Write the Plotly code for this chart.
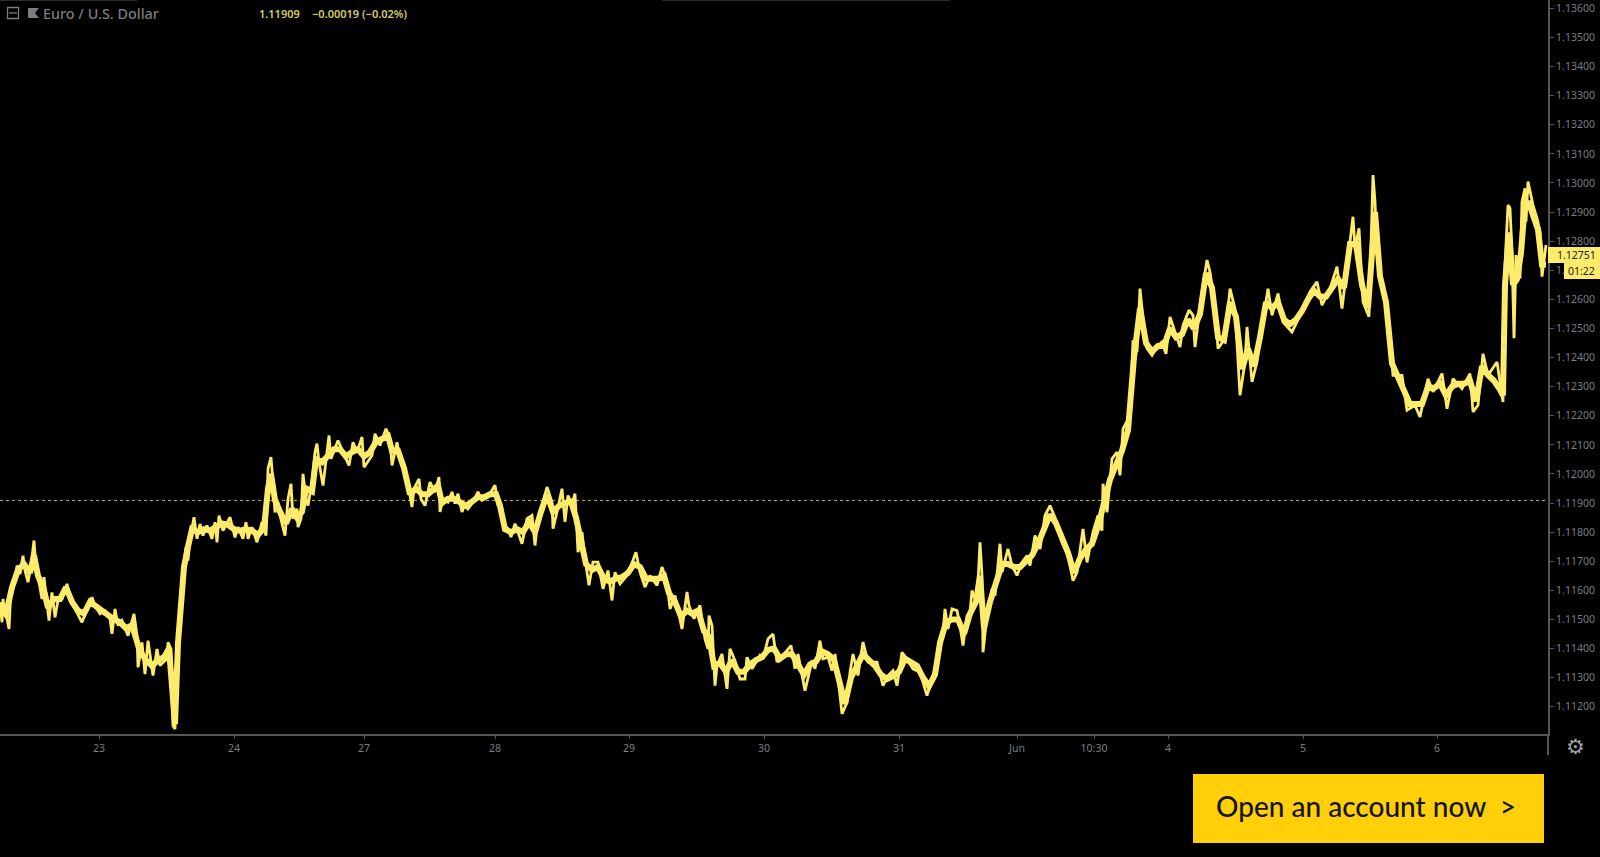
import plotly.graph_objects as go

# bar numbers and EUR/USD swing highs/lows, session by session
bars_a = [0,2,3,5,7,9,11,15,17,20,23,25,28,31,34,36,39,42,44,47,49,52,55,58,62,67,71,75,82,87,92,95,100,105,110,112,115,118,122,128,134,137,138,142,145,148,153,157,160,163,167,168,171,172,173,175,177,178,180,183]
price_a = [1.11559,1.11490,1.11570,1.11513,1.11502,1.11467,1.11605,1.11628,1.11685,1.11656,1.11719,1.11668,1.11628,1.11685,1.11771,1.11674,1.11628,1.11570,1.11645,1.11559,1.11496,1.11593,1.11507,1.11565,1.11570,1.11622,1.11559,1.11536,1.11490,1.11536,1.11576,1.11547,1.11519,1.11530,1.11502,1.11450,1.11536,1.11479,1.11496,1.11444,1.11519,1.11444,1.11335,1.11421,1.11312,1.11427,1.11307,1.11398,1.11341,1.11352,1.11364,1.11421,1.11398,1.11226,1.11135,1.11123,1.11329,1.11444,1.11536,1.11662]

bars_b = [186,188,190,194,197,200,203,207,212,215,217,219,223,230,235,238,243,246,248,252,257,262,266,267,268,271,273,275,278,280,285,288,291,293,297,298,301,303,306,308,312,315,317,319,323,325,329,331,335,338,343,349,353,357,362,364,372,375,380,386,390,392,397,400,407,412,414,419,421,425,430,435,439]
price_b = [1.11748,1.11702,1.11777,1.11851,1.11777,1.11828,1.11788,1.11823,1.11777,1.11834,1.11765,1.11857,1.11805,1.11851,1.11782,1.11817,1.11777,1.11834,1.11777,1.11817,1.11765,1.11834,1.11788,1.11868,1.12018,1.12058,1.11972,1.11868,1.11903,1.11857,1.11788,1.11914,1.11966,1.11846,1.11880,1.11817,1.11846,1.12000,1.11914,1.11891,1.11972,1.12075,1.12104,1.12040,1.11960,1.12018,1.12132,1.12052,1.12086,1.12115,1.12075,1.12029,1.12109,1.12075,1.12127,1.12023,1.12063,1.12138,1.12098,1.12155,1.12121,1.12029,1.12109,1.12052,1.11983,1.11886,1.11949,1.11983,1.11914,1.11891,1.11972,1.11937,1.11989]

bars_c = [440,443,448,452,455,458,462,465,468,472,478,482,488,495,498,502,504,508,511,515,518,522,527,532,535,538,543,547,552,553,557,562,565,568,572,575,578,582,585,589,593,598,603,608,612,615,620,627,633,636,640,645,650,657,662,667,670,675,682,687]
price_c = [1.11869,1.11915,1.11903,1.11938,1.11898,1.11932,1.11869,1.11898,1.11880,1.11898,1.11938,1.11909,1.11921,1.11961,1.11892,1.11880,1.11823,1.11812,1.11783,1.11829,1.11800,1.11760,1.11846,1.11857,1.11754,1.11846,1.11903,1.11955,1.11903,1.11812,1.11869,1.11949,1.11835,1.11926,1.11892,1.11932,1.11731,1.11800,1.11708,1.11617,1.11697,1.11697,1.11605,1.11668,1.11565,1.11662,1.11622,1.11651,1.11703,1.11731,1.11662,1.11611,1.11651,1.11617,1.11680,1.11628,1.11536,1.11582,1.11467,1.11594]

bars_d = [689,694,700,705,708,709,712,715,717,722,727,730,735,740,745,747,752,760,763,768,773,777,783,791,795,798,805,812,815,820,823,828,832,835,840,842,847,850,853,858,863,868,877,883,888,893,897,902,907,913,920,927,933]
price_d = [1.11548,1.11502,1.11548,1.11433,1.11399,1.11513,1.11479,1.11272,1.11341,1.11381,1.11261,1.11399,1.11358,1.11295,1.11295,1.11370,1.11330,1.11376,1.11364,1.11433,1.11450,1.11353,1.11376,1.11410,1.11330,1.11381,1.11255,1.11358,1.11330,1.11427,1.11364,1.11370,1.11324,1.11381,1.11238,1.11175,1.11215,1.11318,1.11381,1.11307,1.11422,1.11353,1.11353,1.11272,1.11307,1.11324,1.11272,1.11387,1.11364,1.11330,1.11318,1.11238,1.11307]

bars_e = [937,940,943,945,948,952,957,960,963,967,970,972,975,977,980,982,983,987,992,995,1000,1002,1008,1012,1017,1022,1027,1030,1035,1040,1045,1050,1057,1062,1068,1073,1077,1083,1087,1093,1098,1102,1103,1107,1112,1117,1120,1123,1130]
price_e = [1.11358,1.11398,1.11456,1.11536,1.11467,1.11536,1.11530,1.11478,1.11410,1.11513,1.11524,1.11599,1.11570,1.11559,1.11765,1.11651,1.11387,1.11513,1.11605,1.11582,1.11760,1.11662,1.11742,1.11685,1.11651,1.11696,1.11719,1.11685,1.11788,1.11742,1.11857,1.11891,1.11834,1.11765,1.11719,1.11633,1.11662,1.11811,1.11696,1.11800,1.11857,1.11805,1.11966,1.11868,1.12052,1.12075,1.11995,1.12155,1.12201]

bars_f = [1132,1133,1137,1140,1143,1147,1152,1158,1162,1166,1170,1175,1180,1183,1189,1193,1195,1202,1207,1210,1215,1218,1225,1230,1235,1240,1245,1247,1252,1257,1260,1268,1272,1278,1283,1292,1300,1310,1317,1322,1330,1337,1342,1348,1353,1355,1359,1363,1369,1373,1375,1377,1383,1387,1393,1402,1407,1415,1420,1428,1433,1442,1447,1453,1462,1470,1473,1478,1483,1488,1497,1503]
price_f = [1.12362,1.12459,1.12419,1.12637,1.12534,1.12431,1.12408,1.12442,1.12454,1.12413,1.12540,1.12488,1.12436,1.12511,1.12563,1.12545,1.12436,1.12626,1.12735,1.12694,1.12580,1.12431,1.12465,1.12637,1.12568,1.12270,1.12385,1.12505,1.12316,1.12385,1.12465,1.12637,1.12545,1.12620,1.12522,1.12488,1.12545,1.12626,1.12660,1.12580,1.12637,1.12712,1.12568,1.12740,1.12884,1.12775,1.12844,1.12591,1.12540,1.13027,1.12935,1.12752,1.12637,1.12568,1.12339,1.12339,1.12219,1.12236,1.12196,1.12327,1.12282,1.12345,1.12224,1.12327,1.12293,1.12345,1.12213,1.12236,1.12413,1.12339,1.12385,1.12247]

bars_g = [1504,1508,1510,1512,1514,1516,1520,1522,1525,1526,1528,1533,1537,1540,1542,1544,1546]
price_g = [1.12649,1.12924,1.12913,1.12764,1.12466,1.12752,1.12672,1.12936,1.12982,1.12867,1.13005,1.12924,1.12878,1.12833,1.12678,1.12729,1.12787]

# centre of the dense price band
band_bars_a = [0,6,12,18,24,30,34,38,44,48,54,60,66,72,78,84,90,96,102,108,114,120,126,132,136,140,146,152,158,164,169,172,175,178,181,184]
band_a = [1.11530,1.11520,1.11610,1.11670,1.11690,1.11660,1.11720,1.11650,1.11600,1.11540,1.11570,1.11570,1.11610,1.11560,1.11530,1.11520,1.11560,1.11545,1.11530,1.11510,1.11500,1.11490,1.11470,1.11480,1.11430,1.11390,1.11360,1.11340,1.11360,1.11370,1.11400,1.11250,1.11140,1.11420,1.11560,1.11680]

band_bars_b = [188,192,198,204,210,216,222,228,234,240,246,252,258,264,268,271,275,280,286,292,297,302,306,312,316,322,328,334,340,346,352,358,364,370,376,382,388,392,398,404,410,416,422,428,434,438]
band_b = [1.11750,1.11810,1.11800,1.11810,1.11805,1.11815,1.11830,1.11825,1.11810,1.11805,1.11810,1.11805,1.11790,1.11815,1.11950,1.12000,1.11910,1.11870,1.11830,1.11880,1.11850,1.11870,1.11950,1.11940,1.12050,1.12040,1.12060,1.12085,1.12085,1.12060,1.12075,1.12085,1.12060,1.12075,1.12110,1.12120,1.12130,1.12080,1.12080,1.12020,1.11930,1.11950,1.11930,1.11930,1.11950,1.11960]

band_bars_c = [442,448,454,460,466,472,478,484,490,496,500,505,511,517,523,529,535,541,547,553,559,565,571,576,581,586,592,598,604,610,616,622,628,634,640,646,652,658,664,669,675,681,687]
band_c = [1.11900,1.11915,1.11915,1.11900,1.11890,1.11905,1.11920,1.11920,1.11930,1.11930,1.11890,1.11810,1.11800,1.11810,1.11800,1.11835,1.11800,1.11870,1.11930,1.11870,1.11890,1.11900,1.11905,1.11850,1.11770,1.11690,1.11670,1.11680,1.11640,1.11630,1.11640,1.11645,1.11660,1.11690,1.11680,1.11640,1.11640,1.11640,1.11650,1.11590,1.11560,1.11510,1.11530]

band_bars_d = [692,698,704,709,714,720,726,732,738,744,750,756,762,768,774,780,786,792,798,804,810,816,822,828,834,840,845,851,857,863,869,875,881,887,893,899,905,911,917,923,929,935]
band_d = [1.11520,1.11530,1.11460,1.11440,1.11340,1.11350,1.11320,1.11360,1.11320,1.11320,1.11345,1.11360,1.11370,1.11395,1.11400,1.11365,1.11380,1.11380,1.11345,1.11310,1.11345,1.11355,1.11390,1.11380,1.11360,1.11270,1.11210,1.11300,1.11340,1.11380,1.11360,1.11340,1.11310,1.11295,1.11305,1.11320,1.11365,1.11350,1.11340,1.11300,1.11270,1.11310]

band_bars_e = [940,946,952,958,964,970,976,980,984,990,996,1002,1008,1014,1020,1026,1032,1038,1044,1050,1056,1062,1068,1074,1080,1086,1092,1098,1104,1110,1116,1122,1128]
band_e = [1.11420,1.11490,1.11500,1.11500,1.11450,1.11520,1.11560,1.11650,1.11470,1.11560,1.11630,1.11690,1.11690,1.11680,1.11680,1.11700,1.11720,1.11760,1.11810,1.11860,1.11830,1.11780,1.11730,1.11660,1.11710,1.11740,1.11760,1.11820,1.11900,1.11980,1.12030,1.12080,1.12150]

band_bars_f = [1134,1140,1146,1152,1158,1164,1170,1176,1182,1188,1194,1200,1206,1212,1218,1224,1230,1236,1242,1248,1254,1260,1266,1272,1278,1284,1290,1296,1302,1308,1314,1320,1326,1332,1338,1344,1350,1356,1362,1368,1372,1375,1380,1386,1392,1398,1404,1410,1416,1422,1428,1434,1440,1446,1452,1458,1464,1470,1476,1482,1488,1494,1500,1503]
band_f = [1.12400,1.12570,1.12450,1.12420,1.12440,1.12440,1.12500,1.12470,1.12480,1.12530,1.12500,1.12550,1.12690,1.12640,1.12470,1.12460,1.12590,1.12540,1.12360,1.12430,1.12370,1.12470,1.12590,1.12570,1.12590,1.12530,1.12515,1.12530,1.12560,1.12600,1.12630,1.12610,1.12610,1.12640,1.12670,1.12640,1.12790,1.12790,1.12650,1.12570,1.12750,1.12900,1.12680,1.12590,1.12380,1.12330,1.12290,1.12240,1.12240,1.12240,1.12300,1.12295,1.12310,1.12270,1.12300,1.12310,1.12310,1.12320,1.12250,1.12370,1.12340,1.12320,1.12290,1.12270]

band_bars_g = [1505,1509,1513,1517,1521,1525,1529,1533,1538,1542,1546]
band_g = [1.12650,1.12830,1.12650,1.12670,1.12760,1.12930,1.12930,1.12890,1.12840,1.12720,1.12720]

day_ticks = [99,234,364,495,629,764,899,1017,1094,1168,1303,1437]
day_labels = ["23","24","27","28","29","30","31","Jun","10:30","4","5","6"]
price_ticks = [1.112,1.113,1.114,1.115,1.116,1.117,1.118,1.119,1.120,1.121,1.122,1.123,1.124,1.125,1.126,1.127,1.128,1.129,1.130,1.131,1.132,1.133,1.134,1.135,1.136]
reference_price = 1.11909

x = bars_a + bars_b + bars_c + bars_d + bars_e + bars_f + bars_g
y = price_a + price_b + price_c + price_d + price_e + price_f + price_g
bx = band_bars_a + band_bars_b + band_bars_c + band_bars_d + band_bars_e + band_bars_f + band_bars_g
by = band_a + band_b + band_c + band_d + band_e + band_f + band_g
assert len(x) == len(y)
assert len(bx) == len(by)

W, H = 1600, 857
PX = lambda v: v / W
PY = lambda v: 1 - v / H
GREY = "#7c7c81"
AXIS = "#55555a"
YEL = "#FDEB6C"
FONT = "Noto Sans"

fig = go.Figure()
fig.add_trace(go.Scatter(x=[0, 1548], y=[reference_price, reference_price], mode="lines",
                         line=dict(color="#c4b64a", width=1, dash="dot"), hoverinfo="skip"))
fig.add_trace(go.Scatter(x=bx, y=by, mode="lines", line=dict(color=YEL, width=6), hoverinfo="skip"))
fig.add_trace(go.Scatter(x=x, y=y, mode="lines", line=dict(color=YEL, width=2.8), hoverinfo="skip"))

def rect(x0, y0, x1, y1, fill=None, line=None, lw=1):
    fig.add_shape(type="rect", xref="paper", yref="paper", x0=PX(x0), x1=PX(x1), y0=PY(y0), y1=PY(y1),
                  fillcolor=fill or "rgba(0,0,0,0)", line=dict(color=line or "rgba(0,0,0,0)", width=lw if line else 0),
                  layer="above")

def seg(x0, y0, x1, y1, color, lw=1):
    fig.add_shape(type="line", xref="paper", yref="paper", x0=PX(x0), x1=PX(x1), y0=PY(y0), y1=PY(y1),
                  line=dict(color=color, width=lw), layer="above")

def text(px, py, s, color, size, anchor="left", family=FONT, weight=None):
    fig.add_annotation(xref="paper", yref="paper", x=PX(px), y=PY(py), text=s, showarrow=False,
                       xanchor=anchor, yanchor="middle", align=anchor,
                       font=dict(color=color, size=size, family=family, weight=weight),
                       borderpad=0, borderwidth=0)

seg(1548, 734, 1548, 755, AXIS, 2)
seg(0, 0.5, 137, 0.5, "#2a2a2a", 1)
seg(662, 0.5, 950, 0.5, "#2a2a2a", 1)
rect(7.5, 7.5, 18.5, 18.5, line=GREY, lw=1.3)
seg(9, 13, 17, 13, GREY, 1.3)
fig.add_shape(type="path", xref="paper", yref="paper", layer="above", line=dict(width=0), fillcolor=GREY,
              path=f"M {PX(28)} {PY(8)} L {PX(39)} {PY(8)} L {PX(35)} {PY(13)} L {PX(39)} {PY(18)} L {PX(28)} {PY(18)} Z")
text(43, 13.5, "Euro / U.S. Dollar", GREY, 14.4, weight=500)
text(259, 14, "1.11909", "#d6cc64", 11, weight=600)
text(312, 14, "−0.00019 (−0.02%)", "#d6cc64", 11, weight=600)
rect(1548, 247, 1600, 263, fill=YEL)
text(1557, 255, "1.12751", "#222222", 10.5)
rect(1564, 263, 1600, 279, fill=YEL)
text(1568, 271, "01:22", "#222222", 10.5)
text(1575, 747, "⚙", "#a0a0a0", 21, anchor="center", family="DejaVu Sans")
rect(1193, 774, 1544, 843, fill="#FFCF0A")
text(1216, 806, "Open an account now&nbsp;&nbsp;&gt;", "#141414", 28, family="Lato", weight=500)

fig.update_layout(
    width=W, height=H, autosize=False, showlegend=False,
    margin=dict(l=0, r=0, t=0, b=0),
    paper_bgcolor="#000000", plot_bgcolor="#000000",
    xaxis=dict(domain=[0, 1548 / W], range=[0, 1548], tickmode="array", tickvals=day_ticks, ticktext=day_labels,
               showgrid=False, zeroline=False, showline=True, linecolor=AXIS, linewidth=2,
               ticks="outside", ticklen=3, tickcolor=AXIS, tickfont=dict(color=GREY, size=10.5, family=FONT)),
    yaxis=dict(domain=[1 - 734 / H, 1], range=[1.11106, 1.13629], side="right", anchor="x",
               tickmode="array", tickvals=price_ticks, tickformat=".5f",
               showgrid=False, zeroline=False, showline=True, linecolor=AXIS, linewidth=2,
               ticks="outside", ticklen=4, tickcolor=AXIS, tickfont=dict(color=GREY, size=10.5, family=FONT)),
)

fig.write_html("out.html", config={"displayModeBar": False},
               post_script="document.body.style.margin='0';document.body.style.overflow='hidden';document.body.style.background='#000';")
